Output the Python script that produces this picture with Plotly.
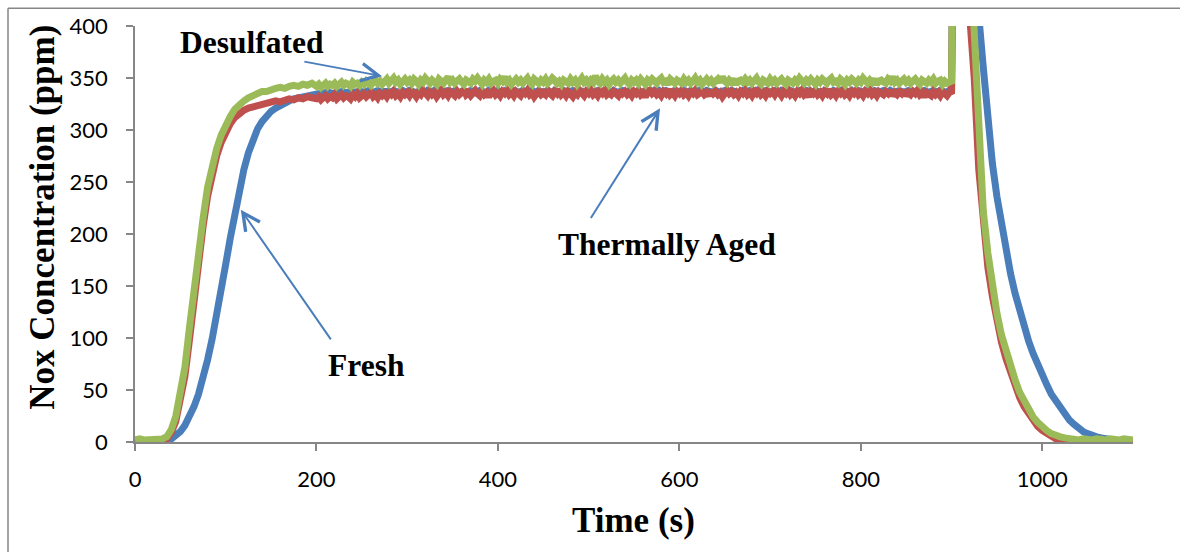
import plotly.graph_objects as go

# sample times (s): 5 s steps on the rise and fall, 2.5 s steps on the plateau
time_rise = [5 * i for i in range(40)]            # 0 .. 195
time_plateau = [200 + 2.5 * i for i in range(280)]  # 200 .. 897.5
time_fall = [900 + 5 * i for i in range(41)]      # 900 .. 1100
time_s = time_rise + time_plateau + time_fall

# ---------------- Fresh (blue) ----------------
fresh_rise = [0, 0, 0, 0, 0, 0, 0, 1, 3, 6, 10, 16, 24, 34, 46, 61, 79, 99, 121, 146,
              171, 196, 221, 243, 262, 278, 291, 301, 308, 314, 318, 321, 324, 326, 328, 330, 331, 332, 333, 334]
fresh_plateau = [
    334, 335, 334, 335, 336, 335, 336, 335, 336, 336,
    336, 337, 336, 336, 337, 336, 337, 337, 336, 337,
    337, 336, 337, 338, 337, 336, 337, 338, 337, 337,
    338, 337, 336, 337, 338, 337, 337, 336, 338, 337,
    336, 338, 337, 337, 336, 337, 338, 337, 336, 338,
    337, 336, 338, 337, 338, 336, 337, 337, 338, 336,
    337, 338, 337, 336, 337, 338, 336, 337, 338, 337,
    336, 337, 338, 337, 337, 336, 338, 337, 336, 337,
    338, 336, 337, 338, 337, 336, 337, 338, 337, 336,
    337, 338, 336, 337, 337, 338, 337, 336, 338, 337,
    336, 337, 338, 337, 336, 338, 337, 337, 336, 338,
    337, 336, 337, 338, 337, 336, 338, 337, 337, 336,
    338, 337, 336, 337, 338, 337, 336, 338, 337, 337,
    336, 338, 337, 336, 337, 338, 337, 336, 338, 337,
    337, 336, 338, 337, 336, 337, 338, 337, 336, 338,
    337, 338, 336, 337, 338, 337, 336, 337, 338, 337,
    336, 337, 338, 336, 337, 338, 337, 337, 336, 338,
    337, 336, 338, 337, 337, 336, 338, 337, 336, 337,
    338, 337, 336, 338, 337, 337, 336, 337, 338, 336,
    337, 338, 337, 336, 338, 337, 336, 337, 338, 337,
    336, 337, 338, 337, 336, 338, 337, 336, 337, 338,
    337, 336, 337, 338, 337, 336, 338, 337, 337, 336,
    338, 337, 336, 337, 338, 337, 337, 336, 338, 337,
    336, 338, 337, 337, 336, 337, 338, 336, 337, 338,
    337, 336, 338, 337, 336, 337, 338, 337, 336, 337,
    338, 337, 336, 338, 337, 336, 337, 338, 337, 336,
    337, 338, 337, 336, 337, 338, 336, 337, 338, 337,
    336, 337, 338, 337, 336, 338, 337, 337, 336, 338]
fresh_fall = [338, 800, 760, 660, 560, 470, 410, 360, 310, 268, 236, 208, 184, 162, 143, 126, 111,
              97, 85, 74, 64, 55, 46, 39, 32, 26, 21,
              17, 13, 10, 8, 6, 5, 4, 3, 2, 2, 1, 1, 1, 1]
fresh = fresh_rise + fresh_plateau + fresh_fall

# ---------------- Thermally Aged (red) ----------------
aged_rise = [1, 2, 1, 1, 2, 1, 2, 3, 9, 20, 38, 63, 98, 138, 175, 207, 236, 258, 275, 288,
             298, 306, 312, 316, 319, 321, 322, 324, 325, 326, 327, 328, 327, 329, 330, 329, 331, 330, 332, 331]
aged_plateau = [
    330, 332, 329, 331, 333, 330, 332, 331, 334, 330,
    332, 334, 331, 333, 332, 330, 334, 332, 335, 331,
    333, 335, 332, 334, 336, 332, 334, 331, 335, 333,
    335, 332, 336, 334, 337, 333, 335, 332, 336, 334,
    336, 333, 337, 335, 332, 336, 334, 338, 335, 333,
    337, 334, 336, 332, 335, 338, 334, 336, 333, 337,
    335, 333, 337, 334, 336, 339, 334, 336, 333, 335,
    338, 335, 333, 337, 334, 336, 332, 336, 338, 334,
    336, 333, 337, 335, 338, 334, 336, 333, 337, 335,
    333, 337, 335, 338, 334, 336, 332, 335, 337, 334,
    336, 334, 338, 335, 333, 337, 335, 339, 334, 336,
    333, 337, 335, 332, 336, 334, 338, 335, 333, 337,
    335, 338, 334, 336, 333, 337, 335, 338, 334, 336,
    334, 337, 335, 333, 338, 335, 337, 334, 336, 333,
    337, 335, 338, 334, 336, 332, 336, 338, 335, 337,
    334, 336, 333, 337, 335, 339, 334, 336, 333, 337,
    335, 338, 334, 336, 333, 337, 335, 338, 334, 336,
    337, 334, 336, 333, 338, 335, 337, 334, 336, 332,
    336, 338, 335, 337, 334, 336, 333, 337, 335, 338,
    334, 336, 333, 337, 335, 338, 334, 336, 333, 337,
    335, 337, 334, 338, 336, 333, 337, 335, 338, 334,
    336, 333, 337, 335, 338, 334, 336, 332, 337, 335,
    338, 334, 336, 333, 337, 335, 339, 334, 336, 333,
    337, 335, 338, 334, 336, 333, 337, 335, 338, 334,
    336, 333, 337, 335, 338, 334, 336, 333, 337, 335,
    334, 337, 335, 338, 333, 336, 334, 337, 335, 338,
    333, 336, 334, 337, 335, 338, 334, 336, 332, 336,
    335, 333, 337, 334, 336, 333, 337, 335, 333, 336]
aged_fall = [337, 800, 720, 560, 410, 350, 262, 205, 168, 140, 116, 96, 80, 66, 54, 43, 34,
             27, 20, 15, 11, 8, 5, 3, 2, 1, 0,
             0, 1, 0, 0, 1, 0, 1, 0, 0, 1, 0, 1, 0, 0]
thermally_aged = aged_rise + aged_plateau + aged_fall

# ---------------- Desulfated (green) ----------------
desulf_rise = [2, 3, 2, 2, 3, 2, 3, 5, 12, 25, 45, 72, 110, 150, 185, 215, 245, 265, 282, 295,
               305, 313, 320, 325, 328, 331, 333, 335, 337, 337, 339, 340, 341, 340, 342, 343, 342, 344, 343, 345]
desulf_plateau = [
    342, 344, 341, 343, 345, 342, 344, 343, 345, 342,
    344, 346, 343, 345, 344, 342, 346, 344, 345, 343,
    346, 344, 347, 345, 343, 346, 348, 345, 347, 344,
    346, 349, 345, 347, 350, 346, 348, 344, 347, 349,
    346, 348, 345, 349, 347, 344, 348, 346, 350, 347,
    345, 348, 346, 344, 349, 347, 345, 348, 351, 346,
    348, 345, 347, 349, 346, 344, 348, 347, 345, 349,
    347, 350, 346, 344, 348, 346, 349, 345, 347, 348,
    345, 349, 347, 351, 346, 348, 344, 347, 349, 346,
    348, 345, 347, 350, 346, 344, 349, 347, 345, 348,
    346, 349, 345, 347, 350, 348, 345, 347, 344, 348,
    347, 345, 349, 346, 348, 344, 347, 350, 346, 348,
    345, 348, 346, 352, 347, 345, 349, 346, 348, 344,
    347, 349, 346, 348, 345, 347, 350, 346, 344, 348,
    346, 348, 345, 349, 347, 344, 348, 346, 349, 347,
    345, 348, 350, 346, 347, 344, 349, 347, 345, 348,
    347, 345, 349, 346, 348, 345, 347, 350, 346, 348,
    344, 347, 349, 346, 348, 345, 347, 349, 346, 351,
    347, 345, 348, 346, 349, 344, 347, 348, 346, 349,
    346, 348, 345, 347, 350, 346, 344, 348, 347, 345,
    349, 346, 348, 345, 347, 349, 346, 344, 348, 347,
    345, 348, 346, 350, 347, 345, 348, 346, 349, 347,
    344, 348, 346, 349, 347, 345, 348, 350, 346, 347,
    345, 349, 347, 344, 348, 346, 349, 347, 345, 348,
    346, 350, 347, 345, 348, 346, 349, 344, 347, 348,
    346, 345, 349, 347, 351, 346, 348, 345, 347, 349,
    346, 348, 345, 347, 349, 346, 344, 348, 347, 345,
    348, 346, 349, 345, 347, 348, 344, 347, 345, 346]
desulf_fall = [347, 800, 750, 620, 480, 394, 282, 222, 182, 151, 124, 103, 87, 73, 60, 48, 39,
               31, 24, 19, 14, 11, 8, 6, 5, 4, 3,
               2, 2, 3, 2, 2, 3, 2, 2, 3, 2, 2, 3, 2, 2]
desulfated = desulf_rise + desulf_plateau + desulf_fall

x_ticks = [0, 200, 400, 600, 800, 1000]
y_ticks = [0, 50, 100, 150, 200, 250, 300, 350, 400]

BLUE = "#4A7EBB"
RED = "#C0504D"
GREEN = "#9BBB59"
GRAY = "#868686"

fig = go.Figure()
for name, ys, col in [("Fresh", fresh, BLUE),
                      ("Thermally Aged", thermally_aged, RED),
                      ("Desulfated", desulfated, GREEN)]:
    fig.add_trace(go.Scatter(x=time_s, y=ys, mode="lines", name=name,
                             line=dict(color=col, width=7)))

# plot area in pixels: left 135, right 1133, top 21, bottom 442
L, R, T, B = 135, 1133, 21, 442
def px(xp):
    return (xp - L) / (R - L)
def py(yp):
    return (B - yp) / (B - T)

serif = "Liberation Serif"
ann = []
# labels
for text, xv, yv in [("Desulfated", 129, 384), ("Fresh", 255.7, 74), ("Thermally Aged", 586, 190)]:
    ann.append(dict(x=xv, y=yv, xref="x", yref="y", text="<b>%s</b>" % text, showarrow=False,
                    font=dict(family=serif, size=31.5, color="black"),
                    xanchor="center", yanchor="middle"))
# arrows (tip, tail)
for tip, tail in [((272.3, 351.8), (185, 366)),
                  ((116.6, 223.4), (217, 97.2)),
                  ((578.7, 320.8), (501.4, 213.9))]:
    ann.append(dict(x=tip[0], y=tip[1], ax=tail[0], ay=tail[1], xref="x", yref="y",
                    axref="x", ayref="y", text="", showarrow=True, arrowhead=5,
                    arrowwidth=2, arrowsize=1.7, arrowcolor=BLUE, standoff=0))
# axis titles
ann.append(dict(x=px(43), y=py(215), xref="paper", yref="paper", text="<b>Nox Concentration (ppm)</b>",
                showarrow=False, textangle=-90, font=dict(family=serif, size=35, color="black"),
                xanchor="center", yanchor="middle"))
ann.append(dict(x=px(633.3), y=py(521), xref="paper", yref="paper", text="<b>Time (s)</b>",
                showarrow=False, font=dict(family=serif, size=35, color="black"),
                xanchor="center", yanchor="middle"))

fig.update_layout(
    width=1180, height=552,
    margin=dict(l=L, r=1180 - R, t=T, b=552 - B),
    paper_bgcolor="white", plot_bgcolor="white",
    showlegend=False,
    annotations=ann,
    shapes=[
        dict(type="line", xref="paper", yref="paper", x0=px(8), x1=px(8), y0=py(560), y1=py(3),
             line=dict(color=GRAY, width=1.5)),
        dict(type="line", xref="paper", yref="paper", x0=px(8), x1=px(1190), y0=py(3), y1=py(3),
             line=dict(color=GRAY, width=1.5)),
    ],
)
fig.update_xaxes(range=[0, 1100], tickvals=x_ticks, ticktext=[str(v) for v in x_ticks],
                 showgrid=False, zeroline=False, showline=True, linecolor=GRAY, linewidth=1.5,
                 ticks="outside", ticklen=7, tickcolor=GRAY, tickwidth=1.5,
                 tickfont=dict(family="Lato", size=22, color="black"), ticklabelstandoff=10)
fig.update_yaxes(range=[0, 400], tickvals=y_ticks, ticktext=[str(v) for v in y_ticks],
                 showgrid=False, zeroline=False, showline=True, linecolor=GRAY, linewidth=1.5,
                 ticks="outside", ticklen=7, tickcolor=GRAY, tickwidth=1.5,
                 tickfont=dict(family="Lato", size=22, color="black"), ticklabelstandoff=14)

fig.write_html("out.html")
